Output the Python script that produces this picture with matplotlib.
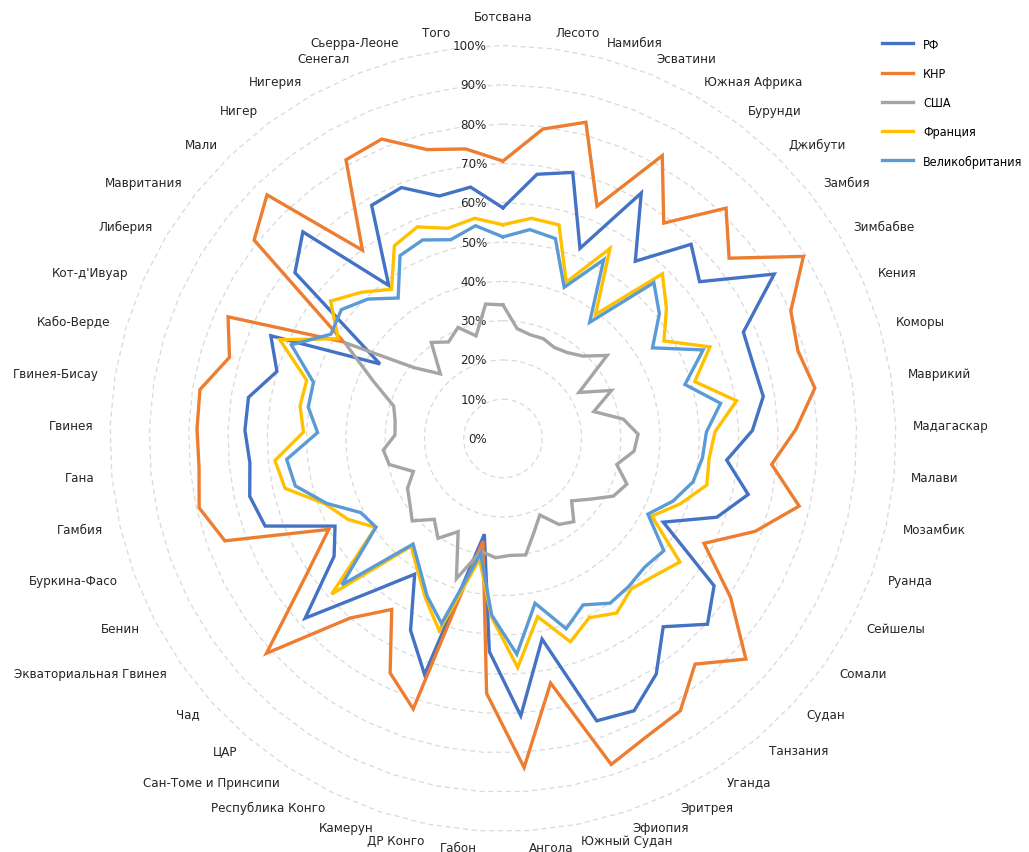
import numpy as np
import matplotlib
matplotlib.use('Agg')
import matplotlib.pyplot as plt
from matplotlib.transforms import offset_copy

plt.rcParams['font.family'] = ['DejaVu Sans']
plt.rcParams['font.stretch'] = 'condensed'

# Страны (по часовой стрелке, начиная сверху)
countries = [
    'Ботсвана', 'Лесото', 'Намибия', 'Эсватини', 'Южная Африка', 'Бурунди', 'Джибути',
    'Замбия', 'Зимбабве', 'Кения', 'Коморы', 'Маврикий', 'Мадагаскар', 'Малави',
    'Мозамбик', 'Руанда', 'Сейшелы', 'Сомали', 'Судан', 'Танзания', 'Уганда',
    'Эритрея', 'Эфиопия', 'Южный Судан', 'Ангола', 'Габон', 'ДР Конго', 'Камерун',
    'Республика Конго', 'Сан-Томе и Принсипи', 'ЦАР', 'Чад', 'Экваториальная Гвинея',
    'Бенин', 'Буркина-Фасо', 'Гамбия', 'Гана', 'Гвинея', 'Гвинея-Бисау', 'Кабо-Верде',
    "Кот-д'Ивуар", 'Либерия', 'Мавритания', 'Мали', 'Нигер', 'Нигерия', 'Сенегал',
    'Сьерра-Леоне', 'Того',
]

rf = [58.7, 67.8, 70.0, 52.2, 71.7, 56.3, 68.8, 64.0, 80.7, 66.9, 66.4, 67.1, 63.5,
      57.2, 64.0, 58.0, 46.0, 65.5, 70.3, 62.9, 71.5, 76.9, 75.7, 52.0, 70.7, 54.3,
      24.8, 63.3, 54.2, 41.2, 51.0, 68.0, 52.4, 48.2, 64.5, 66.1, 64.7, 65.7, 65.6,
      60.0, 64.6, 36.6, 67.7, 73.2, 48.6, 68.1, 68.9, 63.8, 64.5]
china = [70.6, 79.4, 83.2, 63.8, 82.6, 68.4, 81.6, 73.6, 89.4, 80.1, 78.3, 80.4, 74.6,
         68.7, 77.3, 68.4, 57.7, 70.6, 83.5, 75.4, 82.7, 84.2, 87.4, 63.4, 83.9, 65.0,
         26.6, 72.5, 66.2, 51.9, 60.0, 81.3, 61.2, 50.0, 75.4, 79.3, 77.7, 77.9, 78.1,
         72.6, 76.5, 47.4, 81.0, 86.3, 59.8, 81.4, 82.2, 76.0, 74.3]
usa = [34.0, 28.2, 27.3, 27.4, 26.6, 27.3, 29.2, 33.9, 22.6, 30.2, 24.1, 31.0, 34.4,
       33.5, 29.7, 33.6, 31.7, 27.0, 23.6, 27.8, 26.1, 21.6, 25.1, 30.2, 29.8, 30.4,
       29.2, 37.6, 26.3, 30.3, 27.0, 31.2, 28.9, 27.4, 24.3, 29.7, 30.6, 27.5, 27.8,
       29.0, 36.1, 47.1, 28.9, 22.9, 30.5, 28.2, 30.5, 27.0, 34.5]
france = [54.4, 56.5, 56.2, 42.9, 55.5, 39.4, 58.3, 53.2, 47.9, 57.6, 50.9, 60.2, 54.0,
          52.7, 53.2, 48.1, 42.7, 54.9, 52.0, 50.3, 53.0, 50.6, 54.5, 46.2, 58.4, 45.5,
          31.3, 51.5, 45.3, 39.9, 36.0, 58.9, 39.5, 44.5, 48.2, 56.9, 58.3, 50.8, 52.3,
          52.1, 62.1, 49.0, 56.1, 51.8, 47.4, 56.3, 58.1, 55.3, 56.5]
uk = [51.3, 53.6, 52.6, 41.5, 52.2, 36.9, 55.2, 50.9, 44.5, 55.7, 48.3, 56.1, 51.8,
      51.0, 49.6, 46.1, 41.6, 49.9, 48.7, 49.4, 50.0, 47.0, 51.0, 42.7, 55.0, 45.0,
      29.8, 49.6, 44.5, 39.0, 35.3, 55.4, 39.4, 40.8, 47.8, 54.2, 55.3, 47.2, 50.2,
      50.3, 58.9, 51.2, 52.6, 49.4, 44.6, 53.4, 54.5, 52.3, 54.6]

series = [
    ('РФ', rf, '#4472C4'),
    ('КНР', china, '#ED7D31'),
    ('США', usa, '#A5A5A5'),
    ('Франция', france, '#FFC000'),
    ('Великобритания', uk, '#5B9BD5'),
]

n = len(countries)
angles = np.arange(n) * 2 * np.pi / n
ang_closed = np.append(angles, angles[0])

fig = plt.figure(figsize=(10.29, 8.53), dpi=100)
ax = fig.add_axes([0.1069, 0.024, 0.7638, 0.9215], projection='polar')
ax.set_theta_zero_location('N')
ax.set_theta_direction(-1)
ax.set_ylim(0, 100)
ax.grid(False)
ax.spines['polar'].set_visible(False)
ax.set_xticks([])
ax.set_yticks([])

fs = 9.5

# сетка - пунктирные многоугольники
for lvl in range(10, 101, 10):
    ax.plot(ang_closed, [lvl] * (n + 1), ls=(0, (4, 3)), color='#D9D9D9',
            lw=0.9, zorder=1, clip_on=False)

# подписи шкалы
tr = offset_copy(ax.transData, fig=fig, x=-16, y=0, units='dots')
for lvl in range(0, 101, 10):
    ax.text(0, lvl, f'{lvl}%', transform=tr, ha='right', va='center',
            fontsize=fs, color='#262626', zorder=5)

# подписи стран
for a, name in zip(angles, countries):
    s = np.sin(a)
    if abs(s) < 0.01:
        ax.text(a, 107.3, name, ha='center', va='center', fontsize=fs, color='#262626')
    else:
        ax.text(a, 104.3, name, ha='left' if s > 0 else 'right', va='center',
                fontsize=fs, color='#262626')

# линии серий
for i, (name, vals, col) in enumerate(series):
    v = np.append(vals, vals[0])
    ax.plot(ang_closed, v, color=col, lw=2.4, label=name, zorder=3 + i,
            solid_joinstyle='miter')

fig.legend(loc='upper left', bbox_to_anchor=(0.851, 0.962), frameon=False,
           fontsize=9, handlelength=2.5, handletextpad=0.8, labelspacing=1.3,
           borderpad=0)

fig.savefig('out.png', dpi=100)
